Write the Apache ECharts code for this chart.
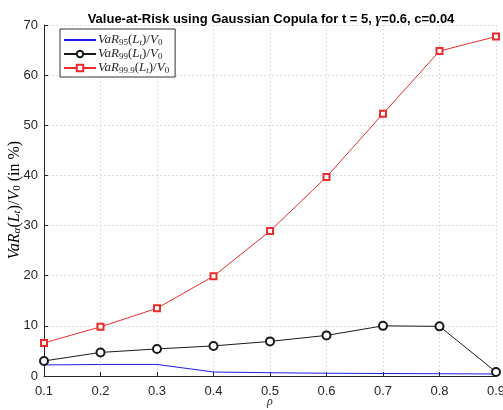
<!DOCTYPE html>
<html>
<head>
<meta charset="utf-8">
<script src="https://cdn.jsdelivr.net/npm/echarts@6/dist/echarts.min.js"></script>
<style>
  html, body { margin: 0; padding: 0; background: #fff; }
  #chart { width: 503px; height: 410px; }
</style>
</head>
<body>
<div id="chart"></div>
<script>
// Correlation values on the x axis
const rho = ['0.1', '0.2', '0.3', '0.4', '0.5', '0.6', '0.7', '0.8', '0.9'];
// Value-at-Risk relative to V0 (in %) for three confidence levels
const var95 = [2.2, 2.3, 2.3, 0.8, 0.65, 0.55, 0.5, 0.45, 0.4];
const var99 = [3.0, 4.7, 5.4, 6.0, 6.9, 8.1, 10.0, 9.9, 0.8];
const var999 = [6.6, 9.8, 13.5, 19.9, 28.9, 39.7, 52.3, 64.8, 67.7];
// Subscript labels for the legend entries
const levels = { 'VaR95': '95', 'VaR99': '99', 'VaR99.9': '99.9' };

const serif = '"Liberation Serif", "DejaVu Serif", serif';
const sans = '"Liberation Sans", Arial, Helvetica, sans-serif';
const axisColor = '#262626';

function mathStyles(size, sub, shift, lh) {
  return {
    v: { fontFamily: serif, fontStyle: 'italic', fontSize: size, lineHeight: lh, color: axisColor },
    r: { fontFamily: serif, fontSize: size, lineHeight: lh, color: axisColor },
    s: { fontFamily: serif, fontStyle: 'italic', fontSize: sub, lineHeight: lh - shift, color: axisColor, padding: [shift, 0, 0, 0] },
    n: { fontFamily: serif, fontSize: sub, lineHeight: lh - shift, color: axisColor, padding: [shift, 0, 0, 0] }
  };
}

const chart = echarts.init(document.getElementById('chart'));
chart.setOption({
  animation: false,
  backgroundColor: '#fff',
  title: {
    text: 'Value-at-Risk using Gaussian Copula for t = 5, {g|γ}=0.6, c=0.04',
    left: 266,
    textAlign: 'center',
    top: 7,
    textStyle: {
      fontFamily: sans, fontWeight: 'bold', fontSize: 13, color: '#000',
      rich: { g: { fontFamily: serif, fontStyle: 'italic', fontSize: 14, color: '#000' } }
    }
  },
  // Axis titles set in math style
  graphic: [{
    type: 'text',
    x: 15,
    y: 200,
    rotation: Math.PI / 2,
    style: {
      text: '{v|VaR}{s|α}{r|(}{v|L}{s|t}{r|)/}{v|V}{n|0}{r| (in %)}',
      align: 'center',
      verticalAlign: 'middle',
      rich: mathStyles(16, 11, 5, 17)
    }
  }, {
    type: 'text',
    x: 270,
    y: 402,
    style: {
      text: 'ρ',
      align: 'center',
      verticalAlign: 'middle',
      fontFamily: serif,
      fontStyle: 'italic',
      fontSize: 12,
      fill: axisColor
    }
  }],
  grid: { left: 44, right: 7, top: 25, bottom: 34, outerBoundsMode: 'none' },
  legend: {
    orient: 'vertical',
    left: 60,
    top: 29,
    padding: [4, 6, 2, 3],
    itemGap: 0,
    itemWidth: 32,
    itemHeight: 8,
    borderColor: '#000',
    borderWidth: 0.8,
    borderRadius: 0,
    backgroundColor: '#fff',
    data: [
      { name: 'VaR95', itemStyle: { color: 'transparent', borderWidth: 0 } },
      { name: 'VaR99' },
      { name: 'VaR99.9' }
    ],
    formatter: name => '{v|VaR}{n|' + levels[name] + '}{r|(}{v|L}{s|t}{r|)/}{v|V}{n|0}',
    textStyle: { padding: [0, 0, 0, -3], rich: mathStyles(13, 9, 5, 13) }
  },
  xAxis: {
    type: 'category',
    data: rho,
    boundaryGap: false,
    axisLine: { lineStyle: { color: axisColor, width: 1 } },
    axisTick: { inside: true, length: 4, lineStyle: { color: axisColor } },
    axisLabel: { fontFamily: sans, fontSize: 13, color: axisColor, margin: 9 },
    splitLine: { show: true, lineStyle: { color: '#dedede', type: [2, 2], width: 1 } }
  },
  yAxis: {
    type: 'value',
    min: 0,
    max: 70,
    interval: 10,
    axisLine: { show: true, lineStyle: { color: axisColor, width: 1 } },
    axisTick: { show: true, inside: true, length: 4, lineStyle: { color: axisColor } },
    axisLabel: { fontFamily: sans, fontSize: 13, color: axisColor, margin: 6 },
    splitLine: { show: true, lineStyle: { color: '#dedede', type: [2, 2], width: 1 } }
  },
  series: [
    {
      name: 'VaR95', type: 'line', data: var95,
      symbol: 'none', color: '#1f1fe6',
      lineStyle: { width: 1, color: '#1f1fe6' }
    },
    {
      name: 'VaR99', type: 'line', data: var99,
      symbol: 'emptyCircle', symbolSize: 8, color: '#1a1a1a',
      lineStyle: { width: 1, color: '#1a1a1a' },
      itemStyle: { color: '#1a1a1a', borderWidth: 1 }
    },
    {
      name: 'VaR99.9', type: 'line', data: var999,
      symbol: 'emptyRect', symbolSize: 6, color: '#e82c2c',
      lineStyle: { width: 1, color: '#e82c2c' },
      itemStyle: { color: '#e82c2c', borderWidth: 1 }
    }
  ]
});
</script>
</body>
</html>
